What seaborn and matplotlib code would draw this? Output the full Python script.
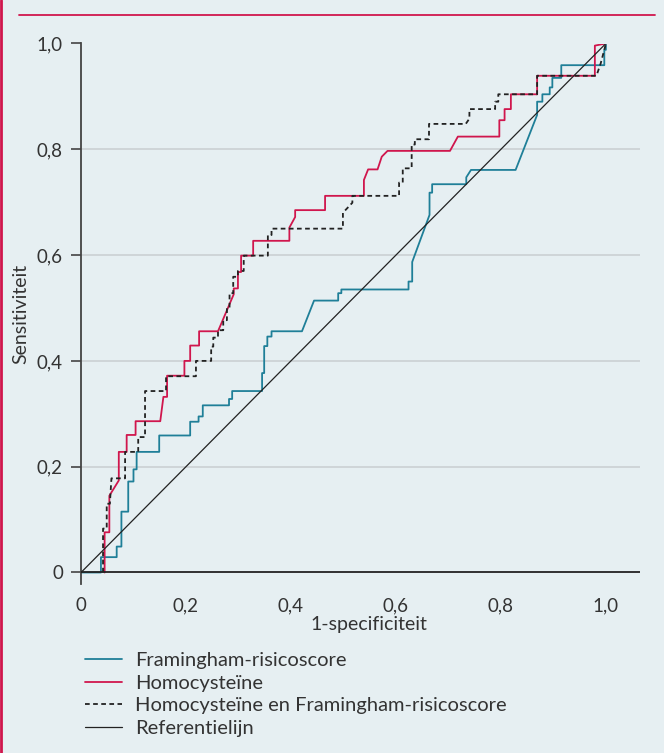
import matplotlib
matplotlib.use("Agg")
import matplotlib.pyplot as plt
from matplotlib.lines import Line2D
import seaborn as sns

# ROC curve vertices (1-specificity, sensitivity)
fram_fpr = [0, 0.038, 0.038, 0.068, 0.068, 0.077, 0.077, 0.09, 0.09, 0.10, 0.10, 0.106, 0.106,
            0.149, 0.149, 0.208, 0.208, 0.224, 0.224, 0.232, 0.232, 0.282, 0.282, 0.288, 0.288,
            0.345, 0.345, 0.349, 0.349, 0.355, 0.355, 0.363, 0.363, 0.421, 0.444, 0.490, 0.490,
            0.496, 0.496, 0.624, 0.624, 0.631, 0.631, 0.664, 0.664, 0.669, 0.669, 0.734, 0.734,
            0.743, 0.828, 0.869, 0.869, 0.879, 0.879, 0.893, 0.893, 0.898, 0.898, 0.915, 0.915,
            0.997, 0.997, 1.0, 1.0]
fram_tpr = [0, 0, 0.029, 0.029, 0.049, 0.049, 0.115, 0.115, 0.172, 0.172, 0.195, 0.195, 0.228,
            0.228, 0.259, 0.259, 0.285, 0.285, 0.295, 0.295, 0.316, 0.316, 0.328, 0.328, 0.343,
            0.343, 0.377, 0.377, 0.428, 0.428, 0.446, 0.446, 0.456, 0.456, 0.514, 0.514, 0.528,
            0.528, 0.535, 0.535, 0.550, 0.550, 0.587, 0.676, 0.718, 0.718, 0.734, 0.734, 0.747,
            0.761, 0.761, 0.865, 0.890, 0.890, 0.904, 0.904, 0.917, 0.917, 0.935, 0.935, 0.959,
            0.959, 0.988, 0.988, 1.0]

homo_fpr = [0.045, 0.045, 0.054, 0.054, 0.072, 0.072, 0.087, 0.087, 0.104, 0.104, 0.151, 0.157,
            0.164, 0.164, 0.197, 0.197, 0.208, 0.208, 0.225, 0.225, 0.261, 0.291, 0.291, 0.299,
            0.299, 0.305, 0.305, 0.328, 0.328, 0.397, 0.397, 0.408, 0.408, 0.465, 0.465, 0.539,
            0.539, 0.547, 0.565, 0.573, 0.584, 0.703, 0.718, 0.797, 0.797, 0.807, 0.807, 0.819,
            0.819, 0.869, 0.869, 0.979, 0.979, 1.0]
homo_tpr = [0, 0.076, 0.076, 0.145, 0.174, 0.228, 0.228, 0.260, 0.260, 0.286, 0.286, 0.332,
            0.332, 0.372, 0.372, 0.400, 0.400, 0.429, 0.429, 0.456, 0.456, 0.526, 0.537, 0.537,
            0.568, 0.568, 0.599, 0.599, 0.627, 0.627, 0.652, 0.672, 0.685, 0.685, 0.712, 0.712,
            0.742, 0.762, 0.762, 0.786, 0.797, 0.797, 0.824, 0.824, 0.855, 0.855, 0.876, 0.876,
            0.904, 0.904, 0.939, 0.939, 0.996, 1.0]

comb_fpr = [0.042, 0.042, 0.049, 0.049, 0.055, 0.058, 0.084, 0.084, 0.109, 0.109, 0.122, 0.122,
            0.162, 0.162, 0.219, 0.219, 0.248, 0.248, 0.252, 0.252, 0.261, 0.261, 0.271, 0.271,
            0.278, 0.278, 0.283, 0.283, 0.290, 0.290, 0.299, 0.299, 0.310, 0.310, 0.356, 0.356,
            0.363, 0.363, 0.499, 0.499, 0.517, 0.517, 0.606, 0.606, 0.613, 0.613, 0.630, 0.630,
            0.636, 0.636, 0.663, 0.663, 0.733, 0.740, 0.740, 0.789, 0.789, 0.795, 0.795, 0.869,
            0.869, 0.982, 0.990, 0.997, 1.0]
comb_tpr = [0, 0.083, 0.083, 0.130, 0.130, 0.178, 0.178, 0.228, 0.228, 0.256, 0.256, 0.343,
            0.343, 0.371, 0.371, 0.400, 0.400, 0.427, 0.427, 0.444, 0.444, 0.458, 0.458, 0.477,
            0.477, 0.501, 0.501, 0.528, 0.528, 0.559, 0.559, 0.570, 0.570, 0.599, 0.599, 0.638,
            0.638, 0.650, 0.650, 0.680, 0.699, 0.712, 0.712, 0.737, 0.737, 0.764, 0.764, 0.809,
            0.809, 0.819, 0.819, 0.848, 0.848, 0.858, 0.876, 0.876, 0.890, 0.890, 0.904, 0.904,
            0.939, 0.939, 0.962, 0.988, 1.0]

ref_x = [0, 1]
ref_y = [0, 1]

y_ticks = [0, 0.2, 0.4, 0.6, 0.8, 1.0]
tick_labels = ["0", "0,2", "0,4", "0,6", "0,8", "1,0"]

labels = ["Framingham-risicoscore", "Homocysteïne",
          "Homocysteïne en Framingham-risicoscore", "Referentielijn"]

bg = "#e6eff2"
teal = "#1f7f98"
red = "#d0164d"
dark = "#222222"

sns.set_theme(style="white")
plt.rcParams["font.family"] = ["Lato", "DejaVu Sans"]

fig = plt.figure(figsize=(6.64, 7.53), dpi=100, facecolor=bg)
ax = fig.add_axes([81 / 664, 1 - 584.5 / 753, 559 / 664, 541 / 753])
ax.set_facecolor(bg)

# grid lines
for yv in y_ticks[1:]:
    ax.axhline(yv, color="#cdd3d6", lw=1.3, zorder=0)

sns.lineplot(x=ref_x, y=ref_y, ax=ax, color=dark, lw=0.9, sort=False, estimator=None,
             label=labels[3], zorder=3)
sns.lineplot(x=fram_fpr, y=fram_tpr, ax=ax, color=teal, lw=1.3, sort=False, estimator=None,
             label=labels[0], zorder=2)
sns.lineplot(x=homo_fpr, y=homo_tpr, ax=ax, color=red, lw=1.3, sort=False, estimator=None,
             label=labels[1], zorder=2)
sns.lineplot(x=comb_fpr, y=comb_tpr, ax=ax, color=dark, lw=1.3, linestyle=(0, (2.6, 1.9)),
             sort=False, estimator=None, label=labels[2], zorder=2)

# baseline acts as x axis
ax.axhline(0, color=dark, lw=1.3, zorder=4)

ax.set_xlim(0, 1.065)
ax.set_ylim(-0.0227, 1.0)
sns.despine(ax=ax, top=True, right=True, bottom=True, left=False)
ax.spines["left"].set_color("#444444")
ax.spines["left"].set_linewidth(1.3)

ax.set_yticks(y_ticks)
ax.set_yticklabels(tick_labels)
ax.set_xticks(y_ticks)
ax.set_xticklabels(tick_labels)
ax.tick_params(axis="y", direction="out", length=7, width=1.2, color="#444444",
               pad=6, labelsize=13.5, labelcolor="#333333", left=True)
ax.tick_params(axis="x", length=0, pad=9, labelsize=13.5, labelcolor="#333333")

ax.set_xlabel("1-specificiteit", fontsize=14, color="#333333", labelpad=0)
ax.xaxis.set_label_coords(0.515, -0.058)
ax.set_ylabel("Sensitiviteit", fontsize=14, color="#333333")
ax.yaxis.set_label_coords(-0.093, 0.5)

handles, labs = ax.get_legend_handles_labels()
order = [labs.index(l) for l in labels]
ax.get_legend().remove()
fig.legend([handles[i] for i in order], [labs[i] for i in order],
           loc="upper left", bbox_to_anchor=(85 / 664, 1 - 652 / 753),
           frameon=False, borderpad=0, borderaxespad=0, fontsize=14.5,
           handlelength=1.85, handletextpad=0.65, labelspacing=0.27, labelcolor="#333333")

# red frame
fig.add_artist(Line2D([19 / 664, 655 / 664], [1 - 15 / 753, 1 - 15 / 753],
                      transform=fig.transFigure, color=red, lw=1.3))
fig.add_artist(Line2D([1.3 / 664, 1.3 / 664], [0, 1], transform=fig.transFigure,
                      color=red, lw=2.0))

fig.savefig("out.png", dpi=100, facecolor=bg)
